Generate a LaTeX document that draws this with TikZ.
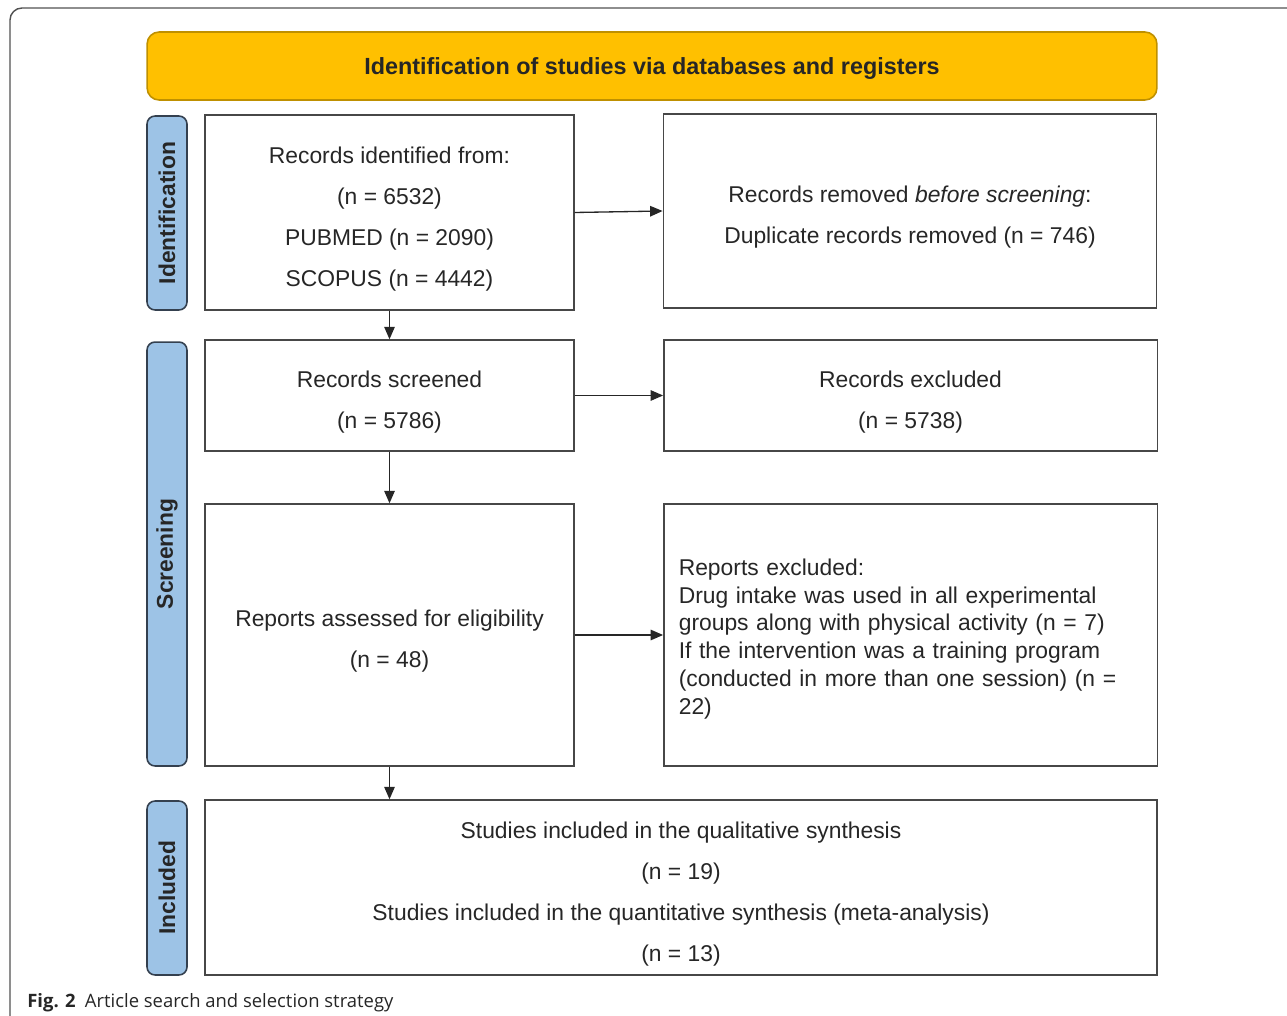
\documentclass[tikz,border=0pt]{standalone}
\usepackage{fontspec}
\setmainfont{Liberation Sans}
\newfontfamily\capfont{Open Sans}
\usetikzlibrary{arrows.meta}
\definecolor{hdrfill}{HTML}{FFC000}
\definecolor{hdrline}{HTML}{BF9000}
\definecolor{sidefill}{HTML}{9DC3E6}
\definecolor{sideline}{HTML}{34404F}
\definecolor{ink}{HTML}{262626}
\newcommand{\boxgap}{\rule{0pt}{14pt}}

\begin{document}
\begin{tikzpicture}[
  x=0.02cm, y=-0.02cm,
  font=\fontsize{13pt}{23.3pt}\selectfont, text=ink,
  outline/.style={draw=ink!85, line width=0.8pt, inner sep=0pt},
  box/.style={outline, align=center, text depth=0pt, minimum width=7.38cm},
  wide/.style={box, minimum width=9.87cm},
  side/.style={draw=sideline, fill=sidefill, line width=0.9pt, rounded corners=0.16cm, rotate=90,
    minimum height=0.8cm, inner sep=0pt, font=\fontsize{13pt}{15pt}\selectfont\bfseries},
  arr/.style={-{Triangle[length=2.5mm,width=2.1mm]}, line width=0.75pt, ink}
]
\useasboundingbox (0,0) rectangle (1287,1016);
\draw[ink!80, line width=0.8pt, rounded corners=0.24cm] (10,1016) -- (10,8) -- (1287,8);

\node[draw=hdrline, fill=hdrfill, rounded corners=0.24cm, line width=0.9pt, minimum width=20.2cm,
  minimum height=1.36cm, text depth=0pt, font=\fontsize{13.3pt}{15pt}\selectfont\bfseries] (hdr) at (652,66)
  {Identification of studies via databases and registers};

\node[side, minimum width=3.88cm] (sid) at (167,213) {Identification};
\node[side, minimum width=8.48cm] (sscr) at (167,554) {Screening};
\node[side, minimum width=3.48cm] (sinc) at (167,888) {Included};

\node[box, minimum height=3.9cm] (ident) at (389.5,212.5)
  {\boxgap Records identified from:\\(n = 6532)\\PUBMED (n = 2090)\\SCOPUS (n = 4442)};
\node[wide, minimum height=3.88cm] (dupl) at (910,211)
  {\boxgap Records removed \textit{before screening}:\\Duplicate records removed (n = 746)};
\node[box, minimum height=2.22cm] (scr) at (389.5,395.5) {\boxgap Records screened\\(n = 5786)};
\node[wide, minimum height=2.22cm] (excl) at (910.5,395.5) {\boxgap Records excluded\\(n = 5738)};
\node[box, minimum height=5.24cm] (elig) at (389.5,635) {\boxgap Reports assessed for eligibility\\(n = 48)};
\node[outline, minimum width=9.87cm, minimum height=5.24cm, text width=9.27cm, inner xsep=0.3cm, align=left,
  font=\fontsize{13pt}{15.9pt}\selectfont] (rexcl) at (910.5,635)
  {\boxgap Reports excluded:\\Drug intake was used in all experimental\\groups along with physical activity (n = 7)\\
   If the intervention was a training program\\(conducted in more than one session) (n =\\22)};
\node[box, minimum width=19.04cm, minimum height=3.5cm] (incl) at (681,887.5)
  {\boxgap Studies included in the qualitative synthesis\\(n = 19)\\
   Studies included in the quantitative synthesis (meta-analysis)\\(n = 13)};

\node[anchor=base west, inner sep=0pt, font=\capfont\fontsize{10.5pt}{13pt}\selectfont] (cap) at (27,1007)
  {\textbf{Fig. 2}\enspace Article search and selection strategy};

\draw[arr] (ident.east) -- (dupl.west);
\draw[arr] (ident) -- (scr);
\draw[arr] (scr) -- (excl);
\draw[arr] (scr) -- (elig);
\draw[arr] (elig) -- (rexcl);
\draw[arr] (elig.south) -- (elig.south |- incl.north);
\end{tikzpicture}
\end{document}
